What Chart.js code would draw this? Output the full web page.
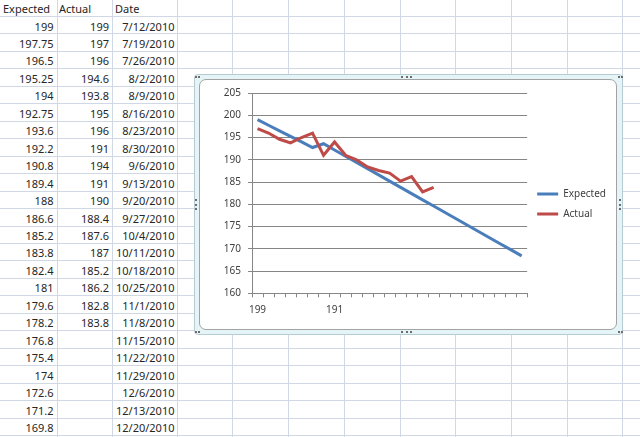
<!DOCTYPE html>
<html>
<head>
<meta charset="utf-8">
<title>Expected vs Actual</title>
<script src="https://cdn.jsdelivr.net/npm/chart.js@4.4.1/dist/chart.umd.min.js"></script>
<style>
    html, body { margin: 0; padding: 0; }
    body {
        width: 640px; height: 437px; overflow: hidden; position: relative;
        background: #fff; font-family: "Noto Sans", sans-serif; font-size: 11px; color: #262626;
    }
    .vl { position: absolute; top: 0; width: 1px; height: 437px; background: #d0d7e5; }
    .hl { position: absolute; left: 0; width: 640px; height: 1px; background: #d0d7e5; }
    .cell { position: absolute; height: 17px; line-height: 17px; white-space: nowrap; }
    #frame {
        position: absolute; left: 194px; top: 74px; width: 429px; height: 261px;
        box-sizing: border-box; border: 1px solid #b7cbd3; border-radius: 4px; background: #e4f4f7;
    }
    #chartBox {
        position: absolute; left: 199px; top: 79px; width: 418px; height: 251px;
        box-sizing: border-box; border: 1px solid #a3a3a3; border-radius: 7px; background: #fff; overflow: hidden;
    }
    .hdots { position: absolute; width: 11px; height: 0; border-top: 2px dotted #6d6d6d; }
    .vdots { position: absolute; width: 0; height: 11px; border-left: 2px dotted #6d6d6d; }
</style>
</head>
<body>
<div id="sheet"></div>
<div id="frame"></div>
<div class="hdots" style="left:401px; top:76px;"></div>
<div class="hdots" style="left:401px; top:331px;"></div>
<div class="vdots" style="left:195px; top:199px;"></div>
<div class="vdots" style="left:619px; top:199px;"></div>
<div class="hdots" style="left:195px; top:76px; width:3px;"></div>
<div class="hdots" style="left:618px; top:76px; width:3px;"></div>
<div class="hdots" style="left:195px; top:331px; width:3px;"></div>
<div class="hdots" style="left:618px; top:331px; width:3px;"></div>
<div id="chartBox"><canvas id="trendChart"></canvas></div>

<script>
// spreadsheet columns
const expected = [199, 197.75, 196.5, 195.25, 194, 192.75, 193.6, 192.2, 190.8, 189.4, 188, 186.6, 185.2,
    183.8, 182.4, 181, 179.6, 178.2, 176.8, 175.4, 174, 172.6, 171.2, 169.8, 168.4];
const actual = [199, 197, 196, 194.6, 193.8, 195, 196, 191, 194, 191, 190, 188.4, 187.6, 187, 185.2, 186.2,
    182.8, 183.8];
const dates = ['7/12/2010', '7/19/2010', '7/26/2010', '8/2/2010', '8/9/2010', '8/16/2010', '8/23/2010',
    '8/30/2010', '9/6/2010', '9/13/2010', '9/20/2010', '9/27/2010', '10/4/2010', '10/11/2010', '10/18/2010',
    '10/25/2010', '11/1/2010', '11/8/2010', '11/15/2010', '11/22/2010', '11/29/2010', '12/6/2010',
    '12/13/2010', '12/20/2010', '12/27/2010'];

// what the embedded chart plots (its Actual range starts one row lower)
const chartExpected = expected;
const chartActual = actual.slice(1);
const xTickLabels = ['199', '', '', '', '', '', '', '191', '', '', '', '', '', '', '', '', '', '', '', '',
    '', '', '', '', ''];

// draw the worksheet grid and cells
const sheet = document.getElementById('sheet');
const colLines = [57, 112, 177, 232, 288, 344, 400, 455, 511, 567, 622];
const rowTop = 16, rowH = 17.46;

colLines.forEach(x => {
    const d = document.createElement('div');
    d.className = 'vl';
    d.style.left = x + 'px';
    sheet.appendChild(d);
});
for (let k = 0; rowTop + k * rowH < 437; k++) {
    const d = document.createElement('div');
    d.className = 'hl';
    d.style.top = Math.round(rowTop + k * rowH) + 'px';
    sheet.appendChild(d);
}

function addCell(text, rowIndex, edge, alignRight) {
    const d = document.createElement('div');
    d.className = 'cell';
    d.textContent = text;
    d.style.top = (rowTop + (rowIndex - 1) * rowH + 1.5) + 'px';
    if (alignRight) {
        d.style.right = (640 - edge) + 'px';
    } else {
        d.style.left = edge + 'px';
    }
    sheet.appendChild(d);
}

addCell('Expected', 0, 3, false);
addCell('Actual', 0, 59, false);
addCell('Date', 0, 115, false);
dates.forEach((dt, i) => {
    addCell(String(expected[i]), i + 1, 53.5, true);
    if (i < actual.length) addCell(String(actual[i]), i + 1, 109, true);
    addCell(dt, i + 1, 174.5, true);
});

// the chart
const axisGray = '#868686';
const ctx = document.getElementById('trendChart').getContext('2d');
window.trendChart = new Chart(ctx, {
    type: 'line',
    data: {
        labels: xTickLabels,
        datasets: [{
            label: 'Expected',
            data: chartExpected,
            borderColor: '#4a7ebb',
            backgroundColor: '#4a7ebb',
            borderWidth: 3,
            pointRadius: 0,
            tension: 0,
            order: 1
        }, {
            label: 'Actual',
            data: chartActual,
            borderColor: '#be4b48',
            backgroundColor: '#be4b48',
            borderWidth: 3,
            pointRadius: 0,
            tension: 0,
            order: 0
        }]
    },
    options: {
        responsive: true,
        maintainAspectRatio: false,
        animation: false,
        layout: {
            padding: { top: 11.7, right: 0, bottom: 12.7, left: 0 }
        },
        plugins: {
            tooltip: { enabled: false },
            legend: {
                position: 'right',
                labels: {
                    boxWidth: 21,
                    boxHeight: 3,
                    padding: 10,
                    color: '#404040',
                    font: { family: 'Noto Sans', size: 10 },
                    sort: (a, b) => a.datasetIndex - b.datasetIndex,
                    generateLabels: chart => Chart.defaults.plugins.legend.labels.generateLabels(chart)
                        .map(item => Object.assign(item, { lineWidth: 0 }))
                }
            }
        },
        scales: {
            x: {
                offset: true,
                grid: {
                    offset: true,
                    drawOnChartArea: false,
                    tickLength: 4,
                    color: axisGray
                },
                border: { color: axisGray },
                ticks: {
                    autoSkip: false,
                    maxRotation: 0,
                    padding: 7,
                    color: '#404040',
                    font: { family: 'Noto Sans', size: 10 }
                },
                afterFit: scale => { scale.height = 23; }
            },
            y: {
                min: 160,
                max: 205,
                grid: {
                    color: axisGray,
                    tickLength: 4
                },
                border: { color: axisGray },
                ticks: {
                    stepSize: 5,
                    padding: 7,
                    color: '#404040',
                    font: { family: 'Noto Sans', size: 10 }
                },
                afterFit: scale => { scale.width = 52; }
            }
        }
    }
});
</script>
</body>
</html>
